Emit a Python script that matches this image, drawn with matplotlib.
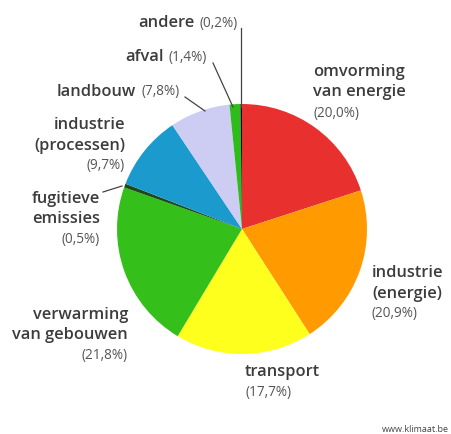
import matplotlib.pyplot as plt

# Broeikasgasuitstoot per sector (%), kloksgewijs vanaf boven
sectors = [
    "omvorming\nvan energie",
    "industrie\n(energie)",
    "transport",
    "verwarming\nvan gebouwen",
    "fugitieve\nemissies",
    "industrie\n(processen)",
    "landbouw",
    "afval",
    "andere",
]
shares = [20.0, 20.9, 17.7, 21.8, 0.5, 9.7, 7.8, 1.4, 0.2]
colors = ["#e8312f", "#ff9a00", "#ffff1e", "#34bf1a", "#1d4a1d",
          "#1b9bcd", "#cdccf3", "#2fbb1c", "#111111"]

W, H = 451, 435
fig = plt.figure(figsize=(W / 100, H / 100), dpi=100)
ax = fig.add_axes([0, 0, 1, 1])
fig.patch.set_facecolor("white")

CX, CY, R = 242, H - 230, 125

ax.pie(shares, colors=colors, startangle=90, counterclock=False,
       center=(CX, CY), radius=R,
       wedgeprops=dict(linewidth=0, antialiased=True))
ax.set_xlim(0, W)
ax.set_ylim(0, H)
ax.set_aspect("equal")
ax.axis("off")

TXT = "#3c3c3c"
PCT = "#555555"
FONT = "Open Sans"
FS, PFS = 11.8, 9.8


def fmt(v):
    return "(" + f"{v:.1f}".replace(".", ",") + "%)"


def label(x, y, name, val, ha="left", inline=False):
    # y in pixels from the top
    if inline:
        t = ax.text(x, H - y, name, ha="left", va="center", fontsize=FS,
                    color=TXT, family=FONT, fontweight="semibold")
        fig.canvas.draw()
        bb = t.get_window_extent().transformed(ax.transData.inverted())
        ax.text(bb.x1 + 5, H - y, fmt(val), ha="left", va="center",
                fontsize=PFS, color=PCT, family=FONT)
        return
    lines = name.split("\n")
    for i, ln in enumerate(lines):
        ax.text(x, H - (y + i * 20.5), ln, ha=ha, va="center", fontsize=FS,
                color=TXT, family=FONT, fontweight="semibold")
    ax.text(x, H - (y + len(lines) * 20.5), fmt(val), ha=ha, va="center",
            fontsize=PFS, color=PCT, family=FONT)


def leader(x1, y1, x2, y2):
    ax.plot([x1, x2], [H - y1, H - y2], color="#444444", lw=0.9, zorder=5)


label(313, 72, sectors[0], shares[0])
label(372, 273, sectors[1], shares[1])
label(245, 372, sectors[2], shares[2])
label(128, 315, sectors[3], shares[3], ha="right")
label(100, 199, sectors[4], shares[4], ha="right")
label(125, 125, sectors[5], shares[5], ha="right")
label(57, 92, sectors[6], shares[6], inline=True)
label(125, 57, sectors[7], shares[7], inline=True)
label(138, 23, sectors[8], shares[8], inline=True)

leader(241, 29, 241, 108)
leader(213, 64, 233, 108)
leader(185, 98, 205, 112)
leader(103, 193, 122, 187)

ax.text(449, H - 430, "www.klimaat.be", ha="right", va="center", fontsize=6.5,
        color="#444444", family=FONT)

fig.savefig("out.png", dpi=100, facecolor="white")
